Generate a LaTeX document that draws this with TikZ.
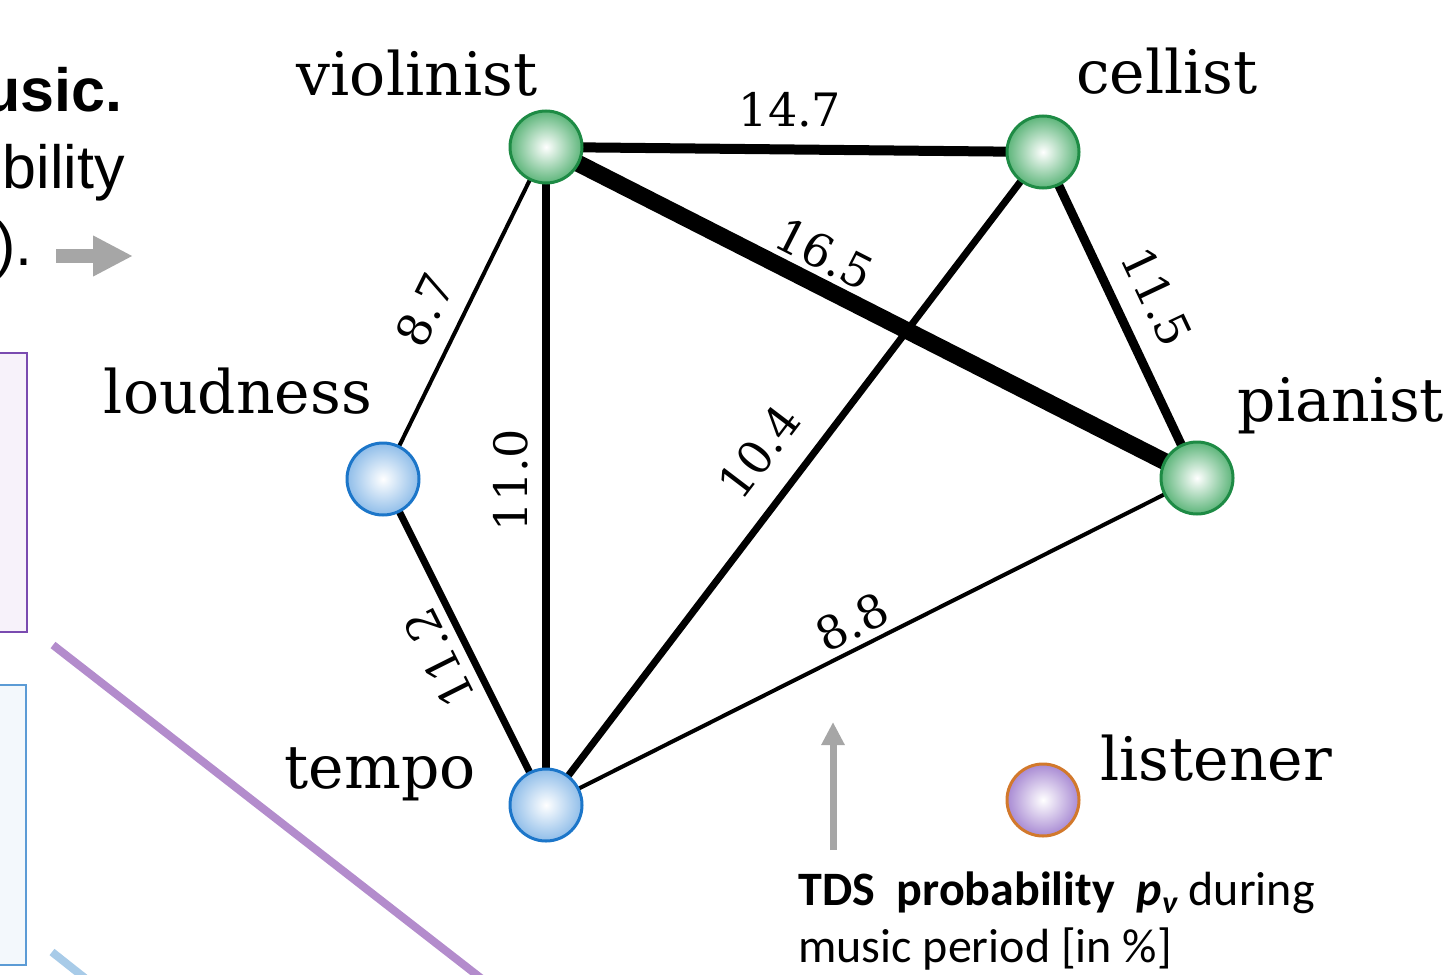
\documentclass[tikz,border=0pt]{standalone}
\usepackage{fontspec}
\setmainfont{Liberation Sans}
\newfontfamily\labfont{DejaVu Serif}
\newfontfamily\calfont{Carlito}
\usetikzlibrary{backgrounds,arrows.meta}
\definecolor{gfill}{HTML}{5DB57A}
\definecolor{gborder}{HTML}{1E8B45}
\definecolor{bfill}{HTML}{8FBDE9}
\definecolor{bborder}{HTML}{1C76C9}
\definecolor{pfill}{HTML}{A88AD3}
\definecolor{pborder}{HTML}{D2792C}
\definecolor{arrowgray}{HTML}{A6A6A6}
\definecolor{boxpurple}{HTML}{F7F2FA}
\definecolor{boxpurpleline}{HTML}{7A4BB0}
\definecolor{boxblue}{HTML}{F3F8FC}
\definecolor{boxblueline}{HTML}{5B9BD5}
\definecolor{plinecol}{HTML}{B38CCC}
\definecolor{blinecol}{HTML}{A8CBE8}
\begin{document}
\begin{tikzpicture}[x=0.5pt,y=-0.5pt,
  ball/.style={circle,minimum size=36pt,inner sep=0pt,line width=1.5pt},
  gball/.style={ball,draw=gborder,inner color=white,outer color=gfill},
  bball/.style={ball,draw=bborder,inner color=white,outer color=bfill},
  pball/.style={ball,draw=pborder,inner color=white,outer color=pfill},
  conn/.style={line cap=butt,black},
  lbl/.style={font=\labfont\fontsize{30}{30}\selectfont,anchor=base,inner sep=0pt},
  num/.style={font=\labfont\fontsize{23}{23}\selectfont,inner sep=0pt},
  sidetext/.style={font=\fontsize{30.5}{30.5}\selectfont,anchor=base east,inner sep=0pt},
  captext/.style={font=\calfont\fontsize{24}{28.5}\selectfont,anchor=base west,inner sep=0pt},
  grayarrow/.style={arrowgray,line cap=butt},
]
\useasboundingbox (0,0) rectangle (1454,974);
\clip (0,0) rectangle (1454,974);

% left fragments
\filldraw[fill=boxpurple,draw=boxpurpleline,line width=1pt] (-20,353) rectangle (27,632);
\filldraw[fill=boxblue,draw=boxblueline,line width=1pt] (-20,685) rectangle (26,965);
\draw[plinecol,line width=4pt] (53,645) -- (500,993);
\draw[blinecol,line width=4pt] (52,952) -- (100,990);
\node[sidetext,font=\bfseries\fontsize{30.5}{30.5}\selectfont] (s1) at (123,112) {usic.};
\node[sidetext] (s2) at (125,188) {bility};
\node[sidetext] (s3) at (33,265) {).};
\coordinate (la0) at (56,256);
\coordinate (la1) at (133,256);
\draw[grayarrow,line width=7pt,-{Triangle[length=20pt,width=19pt]}] (la0) -- (la1);

% nodes
\node[gball] (v) at (546,147) {};
\node[gball] (c) at (1043,152) {};
\node[gball] (p) at (1197,478) {};
\node[bball] (l) at (383,479) {};
\node[bball] (t) at (546,805) {};
\node[pball] (li) at (1043,800) {};

\begin{pgfonlayer}{background}
\draw[conn,line width=5pt] (v.center) -- (c.center);
\draw[conn,line width=8.5pt] (v.center) -- (p.center);
\draw[conn,line width=4.5pt] (c.center) -- (p.center);
\draw[conn,line width=2pt] (v.center) -- (l.center);
\draw[conn,line width=4pt] (v.center) -- (t.center);
\draw[conn,line width=3.5pt] (l.center) -- (t.center);
\draw[conn,line width=3.5pt] (c.center) -- (t.center);
\draw[conn,line width=2pt] (p.center) -- (t.center);
\end{pgfonlayer}

% edge labels
\node[num] (n1) at (790,110) {14.7};
\node[num,rotate=-27] (n2) at (825,254) {16.5};
\node[num,rotate=-64.7] (n3) at (1157,297) {11.5};
\node[num,rotate=63.8] (n4) at (425,310) {8.7};
\node[num,rotate=90] (n5) at (511,480) {11.0};
\node[num,rotate=52.7] (n6) at (759,452) {10.4};
\node[num,rotate=116.6] (n7) at (439,658) {11.2};
\node[num,rotate=26.7] (n8) at (852,622) {8.8};

% names
\node[lbl] (tv) at (417,96) {violinist};
\node[lbl] (tc) at (1167,94) {cellist};
\node[lbl] (tl) at (238,413) {loudness};
\node[lbl] (tp) at (1341,421) {pianist};
\node[lbl] (tt) at (380,788) {tempo};
\node[lbl] (tli) at (1216,780) {listener};

% caption
\coordinate (ua0) at (833,850);
\coordinate (ua1) at (833,722);
\draw[grayarrow,line width=3.5pt,-{Triangle[length=11.5pt,width=11pt]}] (ua0) -- (ua1);
\node[captext] (cap1) at (798,905) {\textbf{TDS\ \ probability\ \ \textit{p}\raisebox{-0.35ex}{\fontsize{16}{16}\selectfont\textit{ν}}} during};
\node[captext] (cap2) at (798,962) {music period [in \%]};
\end{tikzpicture}
\end{document}
